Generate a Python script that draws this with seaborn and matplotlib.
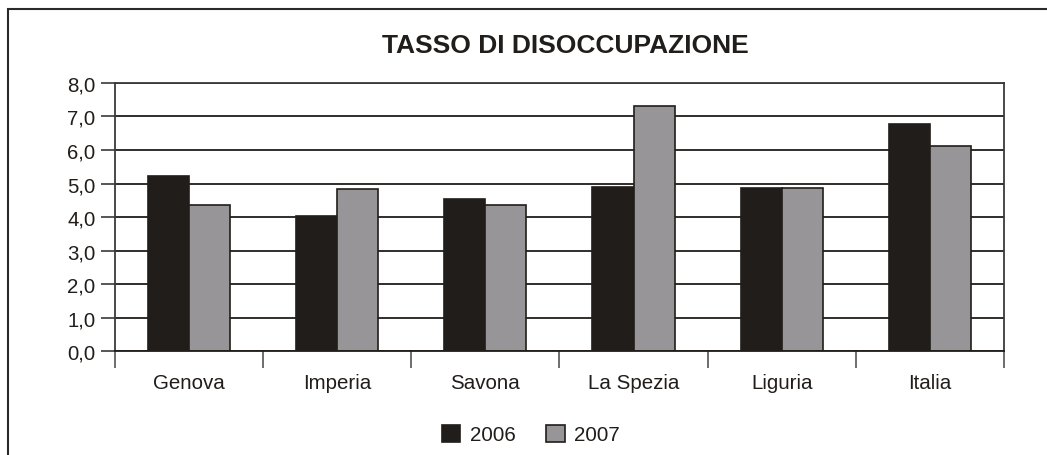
import pandas as pd
import numpy as np
import seaborn as sns
import matplotlib.pyplot as plt
from matplotlib.patches import Rectangle
from matplotlib.ticker import FuncFormatter

province = ['Genova', 'Imperia', 'Savona', 'La Spezia', 'Liguria', 'Italia']
anni = ['2006', '2007']
tasso_2006 = [5.23, 4.02, 4.53, 4.91, 4.88, 6.78]
tasso_2007 = [4.36, 4.85, 4.35, 7.32, 4.86, 6.12]
colori = ['#211d1a', '#979597']

df = pd.DataFrame({
    'provincia': province * 2,
    'anno': [anni[0]] * len(province) + [anni[1]] * len(province),
    'tasso': tasso_2006 + tasso_2007,
})

sns.set_style('white')
plt.rcParams['font.family'] = ['Liberation Sans', 'DejaVu Sans']

fig = plt.figure(figsize=(10.47, 4.56), dpi=100)
ax = fig.add_axes([0.1096, 0.228, 0.8494, 0.5878])

sns.barplot(data=df, x='provincia', y='tasso', hue='anno', palette=colori,
            width=0.555, edgecolor='#211d1a', linewidth=1.2, ax=ax, legend=True)

ax.set_ylim(0, 8)
ax.set_xlim(-0.5, 5.5)
ax.set_yticks(np.arange(0, 9, 1))
ax.yaxis.set_major_formatter(FuncFormatter(lambda v, p: f'{v:.1f}'.replace('.', ',')))
ax.yaxis.grid(True, color='#211d1a', linewidth=1.3)
ax.set_axisbelow(True)
ax.set_xlabel('')
ax.set_ylabel('')

ax.tick_params(axis='y', which='major', direction='out', length=10, width=1.2,
               color='#3a3a3a', labelsize=14.7, pad=4, left=True, labelcolor='#211d1a')
ax.tick_params(axis='x', which='major', length=0, labelsize=14.8, pad=15.5,
               labelcolor='#211d1a')
ax.set_xticks(np.arange(-0.5, 6, 1), minor=True)
ax.tick_params(axis='x', which='minor', direction='out', length=12, width=1.2,
               color='#555555', bottom=True)

for s in ['left', 'right', 'top', 'bottom']:
    ax.spines[s].set_visible(True)
    ax.spines[s].set_color('#3a3a3a')
    ax.spines[s].set_linewidth(1.3)
ax.spines['bottom'].set_color('#211d1a')

fig.text(0.54, 0.900, 'TASSO DI DISOCCUPAZIONE', ha='center', va='center',
         fontsize=19, fontweight='bold', color='#211d1a')

leg = ax.legend(loc='center', bbox_to_anchor=(0.507, 0.045), bbox_transform=fig.transFigure,
                ncol=2, frameon=False, fontsize=14.8, handlelength=0.9, handleheight=0.9,
                handletextpad=0.45, columnspacing=1.5)
for t in leg.get_texts():
    t.set_color('#211d1a')

fig.patches.append(Rectangle((8 / 1047, -0.1), 1.2, 1 - 10 / 456 + 0.1,
                             transform=fig.transFigure, fill=False,
                             edgecolor='#2a2a2a', linewidth=1.5))

fig.savefig('out.png', dpi=100)
